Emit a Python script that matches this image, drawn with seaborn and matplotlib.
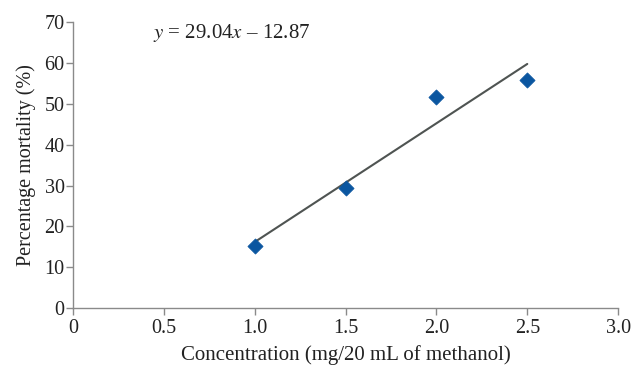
import numpy as np
import pandas as pd
import matplotlib
matplotlib.use("Agg")
import matplotlib.pyplot as plt
import seaborn as sns

concentration = [1.0, 1.5, 2.0, 2.5]
mortality = [15.3, 29.4, 51.6, 55.8]
slope = 29.04
intercept = -12.87
x_ticks = [0, 0.5, 1.0, 1.5, 2.0, 2.5, 3.0]
x_tick_labels = ["0", "0.5", "1.0", "1.5", "2.0", "2.5", "3.0"]
y_ticks = [0, 10, 20, 30, 40, 50, 60, 70]

sns.set_theme(style="white")
plt.rcParams['font.family'] = ['Liberation Serif', 'DejaVu Serif']
plt.rcParams['mathtext.fontset'] = 'stix'

fig = plt.figure(figsize=(6.34, 3.66), dpi=100)
ax = fig.add_axes([0.115, 0.158, 0.86, 0.782])

df = pd.DataFrame({"x": concentration, "y": mortality})
fit_x = [concentration[0], concentration[-1]]
fit = pd.DataFrame({"x": fit_x, "y": [slope * v + intercept for v in fit_x]})

sns.lineplot(data=fit, x="x", y="y", ax=ax, color="#4f5452", linewidth=1.5)
sns.scatterplot(data=df, x="x", y="y", ax=ax, marker="D", s=60,
                color="#0b56a0", edgecolor="#0b56a0", linewidth=0.5, zorder=3)

ax.set_xlim(0, 3.0)
ax.set_ylim(0, 70)
ax.set_xticks(x_ticks)
ax.set_xticklabels(x_tick_labels)
ax.set_yticks(y_ticks)
for s in ["top", "right"]:
    ax.spines[s].set_visible(False)
for s in ["left", "bottom"]:
    ax.spines[s].set_color("#8a8a8a")
    ax.spines[s].set_linewidth(1.0)
ax.tick_params(axis="both", which="major", length=5, width=1, color="#8a8a8a",
               direction="out", labelsize=14.5, labelcolor="#222222", pad=1,
               bottom=True, left=True)
ax.tick_params(axis="x", pad=3)
ax.set_xlabel("Concentration (mg/20 mL of methanol)", fontsize=15, color="#222222", labelpad=5)
ax.set_ylabel("Percentage mortality (%)", fontsize=14.5, color="#222222", labelpad=6)

ax.text(0.44, 67.3, r"$\it{y}$ = 29.04$\it{x}$ – 12.87", fontsize=15,
        color="#222222", va="center", ha="left")

fig.savefig("out.png", dpi=100)
